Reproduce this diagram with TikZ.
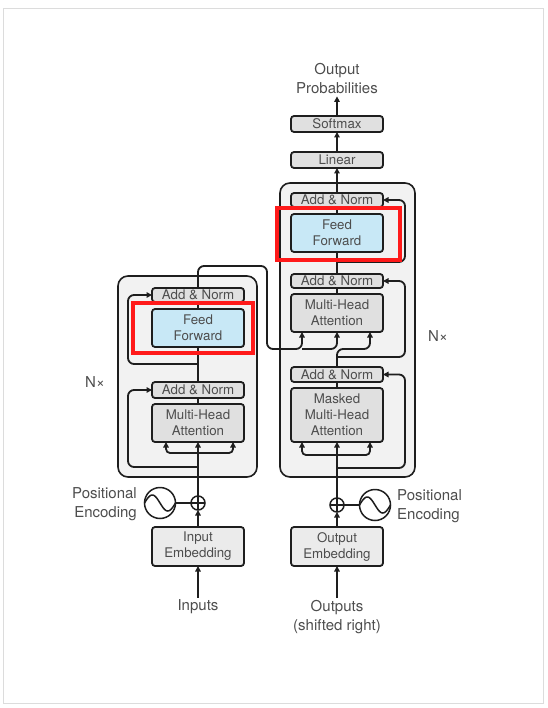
\documentclass[tikz,border=0pt]{standalone}
\usepackage{fontspec}
\setmainfont{TeX Gyre Heros}
\usetikzlibrary{arrows.meta}

\definecolor{cinzacaixa}{HTML}{E0E0E0}
\definecolor{cinzaemb}{HTML}{EBEBEB}
\definecolor{cinzapilha}{HTML}{F2F2F2}
\definecolor{azulff}{HTML}{C8E8F6}
\definecolor{textocinza}{HTML}{4D4D4D}
\definecolor{traco}{HTML}{1E1E1E}
\definecolor{moldura}{HTML}{DCDCDC}
\definecolor{vermelho}{HTML}{FF1A1A}

\tikzset{
  caixa/.style={draw=traco, line width=1.8pt, fill=cinzacaixa, rounded corners=3pt,
    minimum width=92pt, inner sep=0pt, outer sep=0pt, align=center, text=textocinza,
    font=\fontsize{13.3}{16}\selectfont},
  caixaazul/.style={caixa, fill=azulff},
  pilha/.style={draw=traco, line width=1.6pt, fill=cinzapilha, rounded corners=10pt, inner sep=0pt},
  rotulo/.style={text=textocinza, inner sep=2pt, font=\fontsize{15}{19}\selectfont},
  soma/.style={circle, draw=traco, line width=1.5pt, fill=white, minimum size=14pt, inner sep=0pt, outer sep=0pt},
  onda/.style={circle, draw=traco, line width=1.5pt, fill=white, minimum size=31pt, inner sep=0pt, outer sep=0pt},
  linha/.style={draw=traco, line width=1.8pt},
  seta/.style={linha, -{Triangle[length=5.5pt,width=5.5pt]}},
  destaque/.style={draw=vermelho, line width=3.5pt}
}

\begin{document}
\begin{tikzpicture}[x=1pt,y=-1pt]
    % parâmetros
    \def\xe{198}
    \def\xd{337}
    \useasboundingbox (0,0) rectangle (547,708);

    % moldura
    \draw[moldura, line width=1pt] (3,9) rectangle (543,703);

    % pilhas Nx
    \node[pilha, minimum width=139pt, minimum height=201pt] (pilhaenc) at (187.5,376.5) {};
    \node[pilha, minimum width=135pt, minimum height=294pt] (pilhadec) at (347.5,330) {};

    % codificador
    \node[caixa, minimum height=14pt] (encnorma2) at (\xe,295) {Add \& Norm};
    \node[caixaazul, minimum height=38pt] (encff) at (\xe,328) {Feed\\Forward};
    \node[caixa, minimum height=16pt] (encnorma1) at (\xe,390) {Add \& Norm};
    \node[caixa, minimum height=38pt] (encatt) at (\xe,423) {Multi-Head\\Attention};
    \node[soma] (encsoma) at (\xe,503) {};
    \node[onda] (encpos) at (160,503) {};
    \node[caixa, fill=cinzaemb, minimum height=39pt] (encemb) at (\xe,546.5) {Input\\Embedding};
    \node[rotulo] (entrada) at (\xe,607) {Inputs};
    \node[rotulo, anchor=east, align=right] (encposrot) at (139,504) {Positional\\Encoding};
    \node[rotulo] (encn) at (95,382) {N×};

    % decodificador
    \node[rotulo, align=center] (saida) at (\xd,79) {Output\\Probabilities};
    \node[caixa, minimum height=16pt] (softmax) at (\xd,124) {Softmax};
    \node[caixa, minimum height=16pt] (linear) at (\xd,160) {Linear};
    \node[caixa, minimum height=14pt] (decnorma3) at (\xd,200) {Add \& Norm};
    \node[caixaazul, minimum height=38pt] (decff) at (\xd,233) {Feed\\Forward};
    \node[caixa, minimum height=14pt] (decnorma2) at (\xd,281) {Add \& Norm};
    \node[caixa, minimum height=38pt] (decatt2) at (\xd,313) {Multi-Head\\Attention};
    \node[caixa, minimum height=15pt] (decnorma1) at (\xd,374.5) {Add \& Norm};
    \node[caixa, minimum height=54pt] (decatt1) at (\xd,415) {Masked\\Multi-Head\\Attention};
    \node[soma] (decsoma) at (\xd,505) {};
    \node[onda] (decpos) at (375,505) {};
    \node[caixa, fill=cinzaemb, minimum height=39pt] (decemb) at (\xd,546.5) {Output\\Embedding};
    \node[rotulo, align=center] (saidadesl) at (\xd,617) {Outputs\\(shifted right)};
    \node[rotulo, anchor=west, align=left] (decposrot) at (395,506) {Positional\\Encoding};
    \node[rotulo] (decn) at (438,336) {N×};

    % somas e ondas
    \foreach \s in {encsoma,decsoma}
      \draw[line width=1.3pt, draw=traco] (\s.north) -- (\s.south) (\s.west) -- (\s.east);
    \foreach \o in {encpos,decpos}
      \draw[linha, line width=1.5pt, shift={(\o.center)}]
        plot[variable=\t, domain=-1:1, samples=40, smooth] ({15.5*\t},{8*sin(180*\t)});

    % entrada do codificador
    \draw[seta] (entrada) -- (encemb);
    \draw[seta] (encemb) -- (encsoma);
    \draw[linha] (encpos) -- (encsoma);
    \draw[seta] (encsoma) -- (encatt);
    \coordinate (encramo) at (\xe,453);
    \draw[seta, rounded corners=4pt] (encramo) -| ([xshift=-32pt]encatt.south);
    \draw[seta, rounded corners=4pt] (encramo) -| ([xshift=35pt]encatt.south);

    % residuais do codificador
    \coordinate (encres1) at (\xe,467);
    \draw[seta, rounded corners=6pt] (encres1) -| ([xshift=-24pt]encnorma1.west) -- (encnorma1.west);
    \draw[linha] (encatt) -- (encnorma1);
    \draw[linha] (encnorma1) -- (encff);
    \coordinate (encres2) at (\xe,364);
    \draw[seta, rounded corners=6pt] (encres2) -| ([xshift=-24pt]encnorma2.west) -- (encnorma2.west);
    \draw[linha] (encff) -- (encnorma2);

    % saída do codificador
    \coordinate (encsaida) at (267,266);
    \coordinate (memoria) at (302,349);
    \draw[seta, rounded corners=6pt] (encnorma2.north) |- (encsaida) |- (memoria) -- (memoria |- decatt2.south);
    \draw[seta, rounded corners=6pt] (memoria) -| (decatt2.south);

    % entrada do decodificador
    \draw[seta] (saidadesl) -- (decemb);
    \draw[seta] (decemb) -- (decsoma);
    \draw[linha] (decpos) -- (decsoma);
    \draw[seta] (decsoma) -- (decatt1);
    \coordinate (decramo) at (\xd,455);
    \draw[seta, rounded corners=4pt] (decramo) -| ([xshift=-35pt]decatt1.south);
    \draw[seta, rounded corners=4pt] (decramo) -| ([xshift=33pt]decatt1.south);

    % residuais do decodificador
    \coordinate (decres1) at (\xd,468);
    \draw[seta, rounded corners=6pt] (decres1) -| ([xshift=22pt]decnorma1.east) -- (decnorma1.east);
    \draw[linha] (decatt1) -- (decnorma1);
    \coordinate (consulta) at (370,349);
    \draw[seta, rounded corners=6pt] (decnorma1.north) |- (consulta) -- (consulta |- decatt2.south);
    \coordinate (decres2) at (\xd,357);
    \draw[seta, rounded corners=6pt] (decres2) -| ([xshift=22pt]decnorma2.east) -- (decnorma2.east);
    \draw[linha] (decatt2) -- (decnorma2);
    \draw[linha] (decnorma2) -- (decff);
    \coordinate (decres3) at (\xd,262);
    \draw[seta, rounded corners=6pt] (decres3) -| ([xshift=22pt]decnorma3.east) -- (decnorma3.east);
    \draw[linha] (decff) -- (decnorma3);

    % saída
    \draw[seta] (decnorma3) -- (linear);
    \draw[seta] (linear) -- (softmax);
    \draw[seta] (softmax) -- (saida);

    % destaques
    \draw[destaque] (133,303) rectangle (253,353);
    \draw[destaque] (277,208) rectangle (400,260);
\end{tikzpicture}
\end{document}
